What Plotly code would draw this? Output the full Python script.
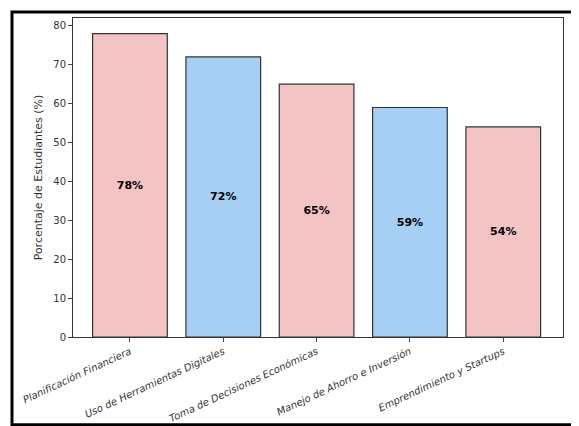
import plotly.graph_objects as go

categories = ["Planificación Financiera", "Uso de Herramientas Digitales",
              "Toma de Decisiones Económicas", "Manejo de Ahorro e Inversión",
              "Emprendimiento y Startups"]
values = [78, 72, 65, 59, 54]
labels = ["78%", "72%", "65%", "59%", "54%"]
colors = ["#f4c4c4", "#a6cff5", "#f4c4c4", "#a6cff5", "#f4c4c4"]

fig = go.Figure(go.Bar(
    x=list(range(len(categories))), y=values, text=labels,
    textposition="inside", insidetextanchor="middle",
    textfont=dict(family="DejaVu Sans", size=11, color="black", weight="bold"),
    marker=dict(color=colors, line=dict(color="#333333", width=1.2)),
    width=0.8,
))
fig.update_layout(
    width=579, height=426, margin=dict(l=65, r=24, t=10, b=97),
    paper_bgcolor="white", plot_bgcolor="white", showlegend=False,
    font=dict(family="DejaVu Sans", size=10, color="#333333"),
    xaxis=dict(range=[-0.61, 4.64], tickvals=list(range(len(categories))),
               ticktext=["<i>%s</i>" % c for c in categories], tickangle=-25,
               showline=True, mirror=True, linecolor="#333333", ticks="outside",
               ticklen=4, showgrid=False, automargin=False),
    yaxis=dict(range=[0, 82], dtick=10, showline=True, mirror=True,
               linecolor="#333333", ticks="outside", ticklen=4, showgrid=False,
               automargin=False,
               title=dict(text="Porcentaje de Estudiantes (%)", font=dict(size=11),
                          standoff=8)),
    shapes=[dict(type="rect", xref="paper", yref="paper",
                 x0=-0.1245, x1=1.041, y0=-0.275, y1=1.019,
                 line=dict(color="black", width=3))],
)
fig.write_html("out.html")
